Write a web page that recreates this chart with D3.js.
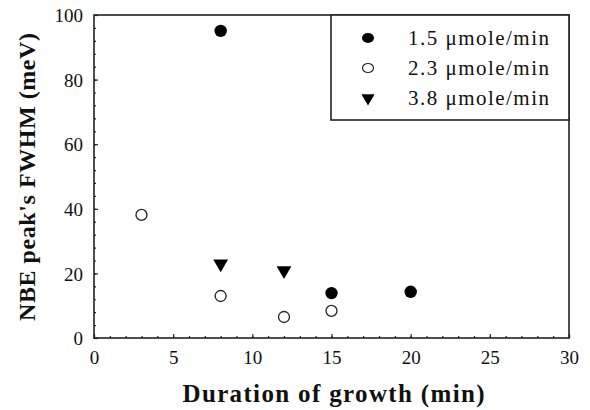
<!DOCTYPE html>
<html>
<head>
<meta charset="utf-8">
<script src="https://cdn.jsdelivr.net/npm/d3@7"></script>
<style>
  body { margin: 0; background: #fff; }
  text { font-family: "Liberation Serif", "Times New Roman", serif; fill: #111; }
</style>
</head>
<body>
<div id="chart"></div>
<script>
// series
var series_names = ['1.5 \u03bcmole/min', '2.3 \u03bcmole/min', '3.8 \u03bcmole/min'];
var s1_x = [8, 15, 20];
var s1_y = [95.1, 13.9, 14.3];
var s2_x = [3, 8, 12, 15];
var s2_y = [38.1, 13.0, 6.5, 8.4];
var s3_x = [8, 12];
var s3_y = [22.7, 20.6];
var x_ticks = [0, 5, 10, 15, 20, 25, 30];
var y_ticks = [0, 20, 40, 60, 80, 100];

var chart_width = 590;
var chart_height = 410;
var plot_left = 94, plot_right = 569, plot_top = 15, plot_bottom = 338;

var svg = d3.select('#chart')
    .append('svg')
    .attr('width', chart_width)
    .attr('height', chart_height);

var x = d3.scaleLinear().domain([0, 30]).range([plot_left, plot_right]);
var y = d3.scaleLinear().domain([0, 100]).range([plot_bottom, plot_top]);

// minor ticks (inward)
svg.append('g')
    .attr('transform', 'translate(0,' + plot_bottom + ')')
    .call(d3.axisTop(x).tickValues(d3.range(0, 31, 1)).tickSize(2).tickFormat(''))
    .call(g => g.select('.domain').remove());
svg.append('g')
    .attr('transform', 'translate(' + plot_left + ',0)')
    .call(d3.axisRight(y).tickValues(d3.range(0, 101, 4)).tickSize(2).tickFormat(''))
    .call(g => g.select('.domain').remove());

// major ticks + labels
var xAxis = svg.append('g')
    .attr('transform', 'translate(0,' + plot_bottom + ')')
    .call(d3.axisBottom(x).tickValues(x_ticks).tickSize(0).tickPadding(0));
xAxis.select('.domain').remove();
xAxis.selectAll('text')
    .attr('y', 26)
    .attr('dy', 0)
    .style('font-size', '19px')
    .style('font-family', '"Liberation Serif", serif')
    .attr('fill', '#111');
svg.append('g')
    .attr('transform', 'translate(0,' + plot_bottom + ')')
    .call(d3.axisTop(x).tickValues(x_ticks).tickSize(4).tickFormat(''))
    .call(g => g.select('.domain').remove());

var yAxis = svg.append('g')
    .attr('transform', 'translate(' + plot_left + ',0)')
    .call(d3.axisLeft(y).tickValues(y_ticks).tickSize(0).tickPadding(0));
yAxis.select('.domain').remove();
yAxis.selectAll('text')
    .attr('x', -11)
    .attr('dy', '0.35em')
    .style('font-size', '19px')
    .style('font-family', '"Liberation Serif", serif')
    .attr('fill', '#111');
svg.append('g')
    .attr('transform', 'translate(' + plot_left + ',0)')
    .call(d3.axisRight(y).tickValues(y_ticks).tickSize(4).tickFormat(''))
    .call(g => g.select('.domain').remove());

svg.selectAll('.tick line').attr('stroke', '#222').attr('stroke-width', 1.2);

// frame
svg.append('rect')
    .attr('x', plot_left).attr('y', plot_top)
    .attr('width', plot_right - plot_left).attr('height', plot_bottom - plot_top)
    .attr('fill', 'none')
    .attr('stroke', '#222')
    .attr('stroke-width', 1.6);

// axis titles
svg.append('text')
    .attr('x', (plot_left + plot_right) / 2 + 2)
    .attr('y', 402)
    .attr('text-anchor', 'middle')
    .attr('textLength', 302)
    .attr('lengthAdjust', 'spacing')
    .style('font-size', '25px')
    .style('font-weight', 'bold')
    .text('Duration of growth (min)');

svg.append('text')
    .attr('transform', 'translate(35,177) rotate(-90)')
    .attr('text-anchor', 'middle')
    .attr('textLength', 288)
    .attr('lengthAdjust', 'spacing')
    .style('font-size', '24px')
    .style('font-weight', 'bold')
    .text("NBE peak's FWHM (meV)");

// markers
var tri = d3.symbol().type(d3.symbolTriangle).size(95);

svg.selectAll('.s1')
    .data(s1_x)
    .enter()
    .append('circle')
    .attr('cx', function (d) { return x(d); })
    .attr('cy', function (d, i) { return y(s1_y[i]); })
    .attr('r', 6.2)
    .attr('fill', '#000');

svg.selectAll('.s2')
    .data(s2_x)
    .enter()
    .append('circle')
    .attr('cx', function (d) { return x(d); })
    .attr('cy', function (d, i) { return y(s2_y[i]); })
    .attr('r', 5.5)
    .attr('fill', '#fff')
    .attr('stroke', '#222')
    .attr('stroke-width', 1.3);

svg.selectAll('.s3')
    .data(s3_x)
    .enter()
    .append('path')
    .attr('d', tri)
    .attr('transform', function (d, i) {
        return 'translate(' + x(d) + ',' + (y(s3_y[i]) - 1) + ') rotate(180)';
    })
    .attr('fill', '#000');

// legend
var lg = svg.append('g');
lg.append('rect')
    .attr('x', 331).attr('y', plot_top)
    .attr('width', plot_right - 331).attr('height', 105)
    .attr('fill', '#fff')
    .attr('stroke', '#222')
    .attr('stroke-width', 1.6);

var rows = lg.selectAll('.row')
    .data(series_names)
    .enter()
    .append('g')
    .attr('transform', function (d, i) { return 'translate(368,' + (38 + i * 30) + ')'; });

rows.each(function (d, i) {
    var g = d3.select(this);
    if (i === 0) g.append('ellipse').attr('rx', 6).attr('ry', 5).attr('fill', '#000');
    if (i === 1) g.append('ellipse').attr('rx', 5.5).attr('ry', 4.5).attr('fill', '#fff')
        .attr('stroke', '#222').attr('stroke-width', 1.2);
    if (i === 2) g.append('path').attr('d', d3.symbol().type(d3.symbolTriangle).size(75))
        .attr('transform', 'rotate(180)').attr('fill', '#000');
});

rows.append('text')
    .attr('x', 40)
    .attr('dy', '0.35em')
    .attr('textLength', 141)
    .attr('lengthAdjust', 'spacing')
    .style('font-size', '21px')
    .text(function (d) { return d; });
</script>
</body>
</html>
